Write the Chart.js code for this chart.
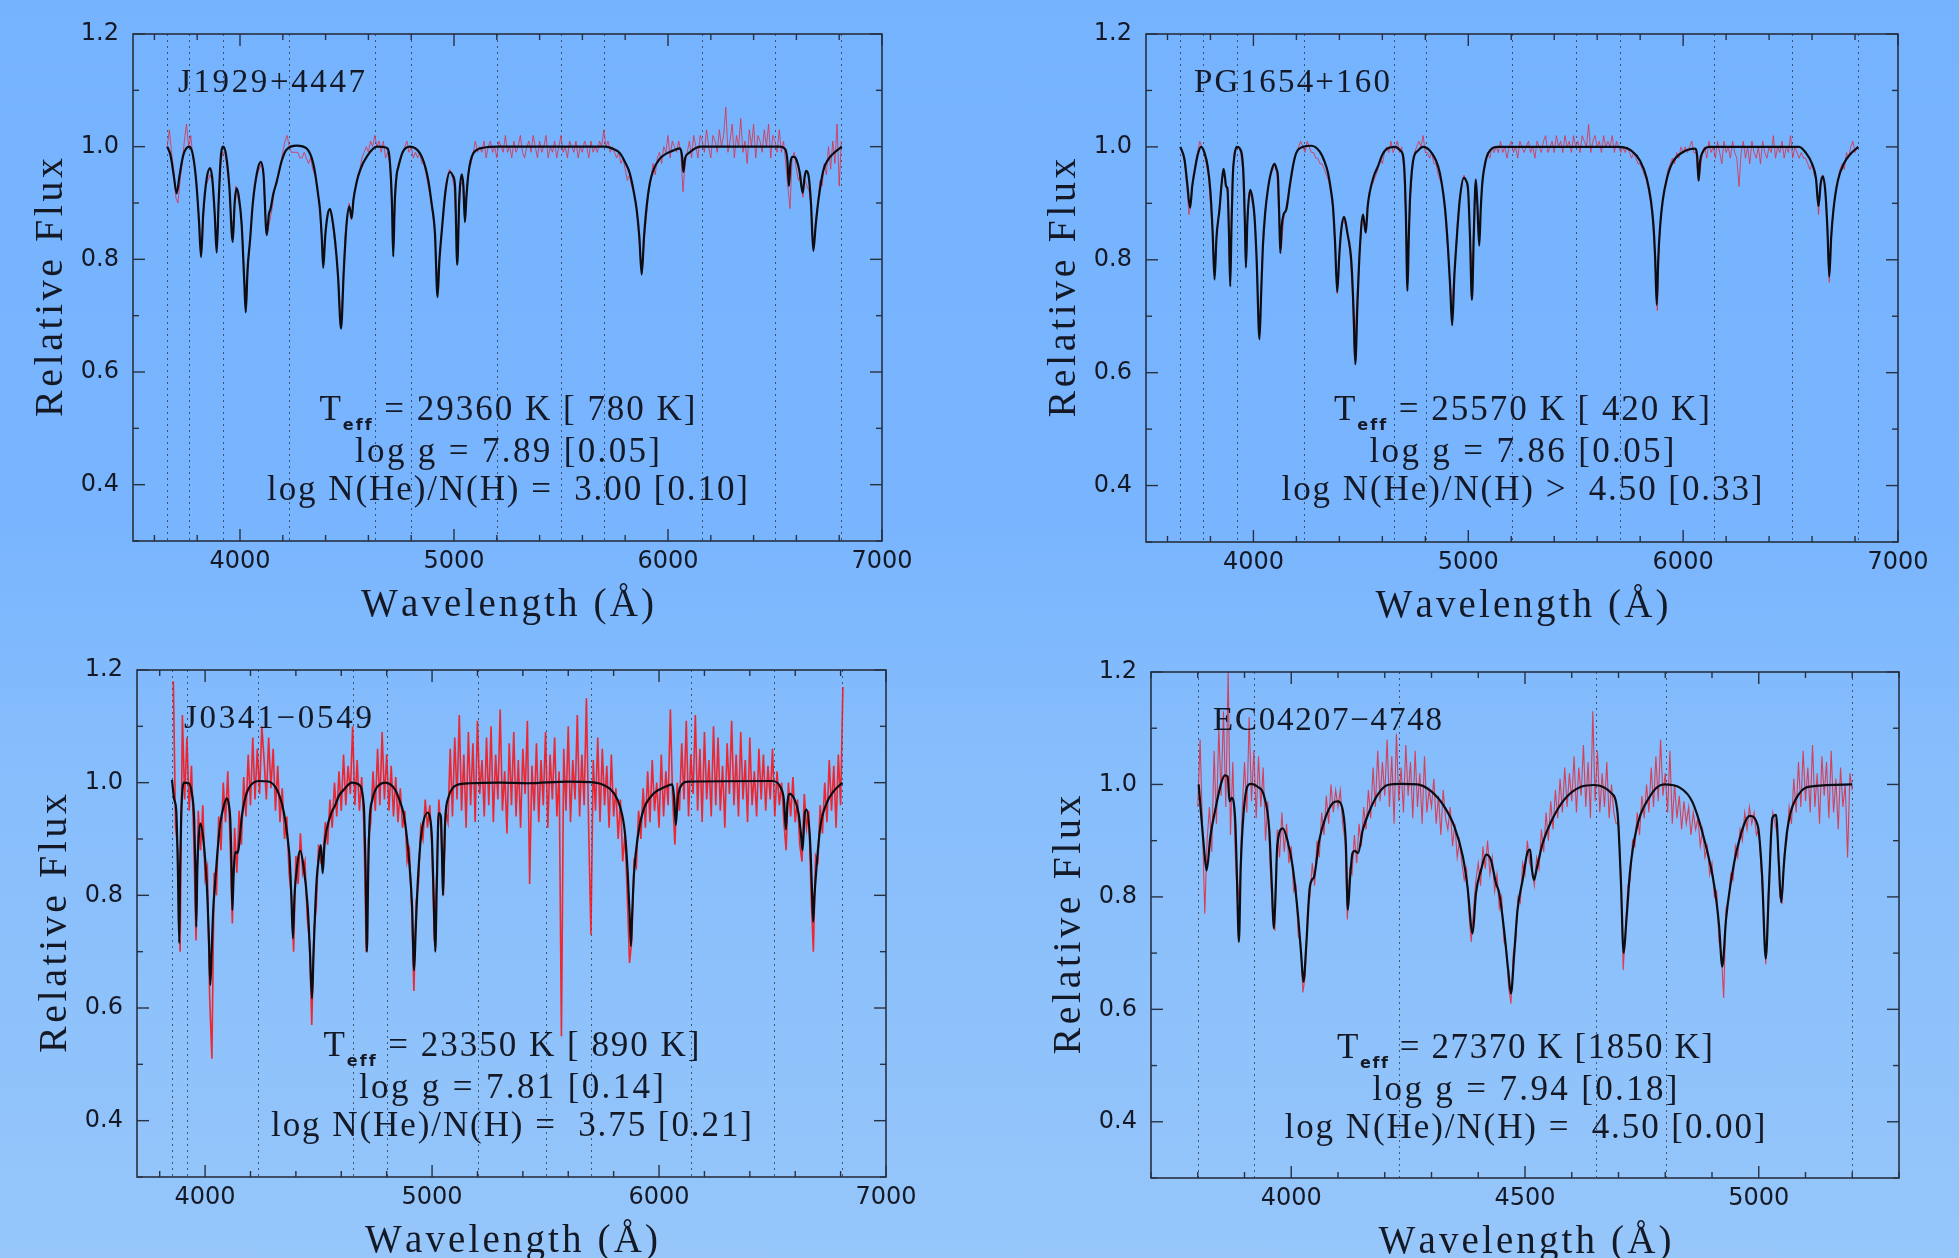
<!DOCTYPE html>
<html>
<head>
<meta charset="utf-8">
<script src="https://cdn.jsdelivr.net/npm/chart.js@4.4.1/dist/chart.umd.min.js"></script>
<style>
html, body { margin: 0; padding: 0; }
body {
  width: 1959px; height: 1258px; overflow: hidden; position: relative;
  background: linear-gradient(180deg, #76b3fe 0%, #79b5fe 42%, #86bdfc 60%, #96c6fa 100%);
}
canvas { position: absolute; }
</style>
</head>
<body>
<canvas id="tl" width="980" height="629" style="left:0;top:0"></canvas>
<canvas id="tr" width="979" height="629" style="left:980px;top:0"></canvas>
<canvas id="bl" width="980" height="629" style="left:0;top:629px"></canvas>
<canvas id="br" width="979" height="629" style="left:980px;top:629px"></canvas>
<script>
// ---- data ----
const yTickLabels = [0.4, 0.6, 0.8, 1.0, 1.2];
const xTickLabelsWide = [4000, 5000, 6000, 7000];
const xTickLabelsNarrow = [4000, 4500, 5000];

// J1929+4447 model fit [wavelength, flux]
const tlModel = [[3660,1.000],[3675,0.985],[3690,0.950],[3704,0.917],[3718,0.950],[3735,0.985],[3763,1.000],[3780,0.985],
  [3795,0.940],[3808,0.870],[3818,0.804],[3828,0.880],[3845,0.945],[3860,0.962],[3870,0.945],[3882,0.880],[3891,0.812],
  [3900,0.900],[3910,0.980],[3922,1.000],[3935,0.985],[3950,0.930],[3966,0.831],[3975,0.900],[3984,0.926],[3995,0.910],
  [4008,0.860],[4020,0.760],[4027,0.706],[4035,0.780],[4047,0.834],[4060,0.900],[4080,0.955],[4097,0.973],[4110,0.950],
  [4125,0.843],[4135,0.880],[4143,0.890],[4155,0.915],[4171,0.937],[4195,0.975],[4218,0.995],[4265,1.002],[4311,0.997],
  [4335,0.980],[4350,0.955],[4365,0.915],[4374,0.887],[4382,0.840],[4389,0.785],[4398,0.840],[4410,0.880],[4421,0.889],
  [4432,0.870],[4444,0.834],[4458,0.770],[4472,0.677],[4485,0.780],[4498,0.863],[4511,0.894],[4522,0.873],[4530,0.905],
  [4545,0.937],[4565,0.962],[4592,0.982],[4639,1.000],[4685,0.998],[4700,0.975],[4710,0.900],[4716,0.805],[4723,0.900],
  [4732,0.950],[4740,0.964],[4760,0.990],[4794,1.000],[4841,0.988],[4865,0.965],[4880,0.940],[4895,0.900],[4911,0.846],
  [4923,0.733],[4932,0.800],[4942,0.846],[4960,0.920],[4981,0.955],[4995,0.948],[5005,0.929],[5015,0.790],[5025,0.910],
  [5036,0.951],[5044,0.930],[5051,0.866],[5058,0.910],[5067,0.951],[5090,0.988],[5137,0.998],[5200,1.000],[5706,1.000],
  [5750,0.995],[5776,0.988],[5800,0.972],[5822,0.952],[5840,0.920],[5854,0.887],[5866,0.840],[5877,0.773],[5888,0.840],
  [5900,0.893],[5915,0.935],[5931,0.958],[5960,0.978],[5994,0.988],[6030,0.994],[6056,0.997],[6065,0.985],[6072,0.955],
  [6080,0.980],[6095,0.988],[6150,1.000],[6523,1.000],[6547,0.996],[6558,0.975],[6565,0.930],[6572,0.970],[6581,0.982],
  [6590,0.982],[6601,0.976],[6615,0.955],[6629,0.918],[6638,0.945],[6645,0.957],[6656,0.950],[6668,0.900],[6679,0.815],
  [6690,0.860],[6703,0.905],[6726,0.958],[6750,0.978],[6773,0.988],[6812,1.000]];
// J1929+4447 observed flux, 3660-6810 A every 10 A
const tlObsStart = 3660, tlObsStep = 10;
const tlObs = [
  1.00,1.03,0.99,0.96,0.91,0.90,0.94,0.97,1.01,1.04,1.00,1.02,0.98,0.96,0.91,0.87,0.81,0.88,0.93,0.94,
  0.95,0.94,0.89,0.82,0.90,0.97,0.99,0.99,0.96,0.93,0.86,0.87,0.93,0.91,0.89,0.86,0.77,0.72,0.80,0.85,
  0.90,0.93,0.95,0.96,0.97,0.95,0.86,0.85,0.87,0.89,0.92,0.94,0.95,0.97,0.99,1.01,1.02,1.00,0.99,0.99,
  0.99,0.99,0.98,0.98,0.99,0.98,0.97,0.98,0.96,0.95,0.93,0.90,0.85,0.79,0.85,0.88,0.89,0.87,0.84,0.81,
  0.77,0.69,0.75,0.84,0.87,0.90,0.87,0.91,0.93,0.95,0.96,0.98,0.99,1.00,0.99,1.01,1.00,1.02,1.00,1.01,
  0.99,1.01,0.98,0.99,0.97,0.89,0.86,0.94,0.97,0.98,0.99,1.00,1.01,0.99,1.00,0.98,0.99,0.98,0.99,0.97,
  0.97,0.95,0.93,0.91,0.88,0.85,0.77,0.79,0.84,0.88,0.93,0.95,0.96,0.95,0.93,0.86,0.85,0.93,0.94,0.88,
  0.93,0.96,0.97,0.99,1.01,0.99,1.00,0.99,1.01,0.98,1.00,1.01,0.99,1.00,0.98,1.01,1.00,0.99,1.02,0.99,
  1.00,0.98,1.01,0.99,1.00,1.02,0.99,0.98,1.00,1.01,0.99,1.02,1.00,0.98,1.01,0.99,1.00,1.02,0.98,1.00,
  0.99,1.01,0.98,1.00,1.02,0.99,1.00,0.98,1.01,1.00,0.99,1.01,0.98,1.00,0.99,1.01,1.00,0.98,1.01,0.99,
  1.00,0.99,1.01,1.00,1.03,1.00,1.01,0.99,1.00,0.99,0.98,0.99,0.97,0.98,0.96,0.94,0.95,0.93,0.92,0.90,
  0.86,0.81,0.78,0.84,0.88,0.92,0.94,0.97,0.95,0.98,0.99,0.97,1.00,0.99,1.02,0.98,1.01,1.00,0.99,1.01,
  0.99,0.92,0.97,0.99,1.01,0.98,1.02,1.00,0.98,1.02,1.01,0.99,1.03,1.00,0.98,1.02,1.01,0.99,1.03,1.00,
  1.02,1.07,0.99,1.01,1.04,0.98,1.02,1.00,1.05,0.99,1.01,0.97,1.03,1.00,1.04,0.98,1.02,1.01,0.99,1.03,
  1.00,1.04,0.98,1.02,1.01,0.99,1.03,0.99,1.01,0.97,0.93,0.89,0.98,0.99,0.96,0.94,0.95,0.91,0.94,0.93,
  0.92,0.89,0.82,0.87,0.90,0.94,0.93,0.97,0.95,1.00,0.96,1.01,0.97,1.04,0.93,1.01];

// PG1654+160 model fit
const trModel = [[3660,1.000],[3679,0.978],[3692,0.935],[3705,0.892],[3715,0.930],[3725,0.954],[3740,0.985],[3756,1.000],
  [3772,0.990],[3787,0.966],[3800,0.920],[3810,0.850],[3819,0.765],[3828,0.840],[3842,0.889],[3852,0.935],[3861,0.961],
  [3868,0.945],[3873,0.930],[3879,0.927],[3886,0.850],[3892,0.753],[3898,0.860],[3904,0.948],[3912,0.985],[3923,1.000],
  [3943,0.992],[3954,0.948],[3960,0.870],[3965,0.786],[3972,0.870],[3985,0.924],[3995,0.910],[4005,0.877],[4015,0.800],
  [4028,0.659],[4036,0.740],[4044,0.824],[4055,0.885],[4067,0.924],[4082,0.955],[4098,0.970],[4108,0.960],[4114,0.948],
  [4120,0.880],[4125,0.812],[4132,0.860],[4140,0.880],[4153,0.889],[4171,0.936],[4185,0.968],[4199,0.989],[4230,1.000],
  [4269,1.002],[4308,0.992],[4330,0.975],[4347,0.954],[4360,0.925],[4370,0.895],[4380,0.830],[4390,0.743],[4400,0.810],
  [4409,0.854],[4422,0.876],[4437,0.848],[4456,0.795],[4466,0.710],[4474,0.615],[4484,0.720],[4495,0.818],[4510,0.880],
  [4516,0.865],[4523,0.848],[4532,0.895],[4541,0.919],[4560,0.948],[4580,0.966],[4600,0.986],[4619,0.996],[4658,1.000],
  [4685,0.993],[4697,0.983],[4705,0.940],[4709,0.889],[4717,0.745],[4723,0.840],[4728,0.901],[4743,0.975],[4765,0.993],
  [4790,1.000],[4836,0.986],[4860,0.965],[4875,0.939],[4892,0.890],[4906,0.818],[4916,0.750],[4925,0.684],[4935,0.770],
  [4945,0.830],[4960,0.905],[4979,0.945],[4990,0.940],[4999,0.924],[5008,0.840],[5017,0.729],[5026,0.850],[5035,0.942],
  [5042,0.900],[5051,0.825],[5058,0.890],[5066,0.939],[5078,0.970],[5093,0.989],[5139,1.000],[5700,1.000],[5760,0.993],
  [5800,0.975],[5830,0.945],[5850,0.905],[5862,0.860],[5870,0.800],[5877,0.720],[5884,0.800],[5893,0.860],[5905,0.905],
  [5925,0.945],[5950,0.972],[6000,0.991],[6055,0.997],[6065,0.985],[6072,0.940],[6079,0.975],[6090,0.990],[6120,1.000],
  [6540,1.000],[6570,0.990],[6600,0.970],[6618,0.945],[6630,0.895],[6640,0.935],[6650,0.948],[6662,0.920],[6672,0.850],
  [6680,0.770],[6689,0.840],[6700,0.890],[6720,0.940],[6750,0.972],[6780,0.988],[6815,1.000]];
const trObsStart = 3660, trObsStep = 10;
const trObs = [
  1.00,0.99,0.97,0.93,0.88,0.90,0.95,0.97,0.99,1.01,1.00,0.99,0.97,0.95,0.90,0.84,0.77,0.84,0.89,0.93,
  0.96,0.93,0.92,0.77,0.93,0.99,1.00,1.00,0.99,0.96,0.85,0.85,0.92,0.91,0.89,0.85,0.74,0.67,0.80,0.85,
  0.90,0.93,0.95,0.96,0.97,0.95,0.86,0.82,0.87,0.89,0.91,0.93,0.95,0.98,0.99,1.00,1.01,1.00,0.99,1.01,
  1.00,0.99,0.99,0.98,0.98,0.97,0.97,0.96,0.95,0.94,0.92,0.89,0.82,0.74,0.81,0.86,0.87,0.86,0.84,0.81,
  0.75,0.63,0.72,0.79,0.84,0.88,0.85,0.89,0.92,0.93,0.94,0.95,0.96,0.98,0.97,0.99,1.00,0.99,1.01,0.99,
  1.00,1.01,0.99,1.00,0.96,0.86,0.80,0.91,0.96,0.99,1.00,1.01,1.00,1.02,0.99,0.99,0.98,0.99,0.97,0.97,
  0.95,0.94,0.93,0.89,0.84,0.79,0.71,0.75,0.81,0.87,0.91,0.93,0.95,0.94,0.92,0.82,0.78,0.93,0.92,0.83,
  0.91,0.95,0.97,0.99,0.98,1.00,0.99,1.00,0.99,1.01,0.99,1.00,0.98,1.00,1.01,0.99,1.00,0.98,1.01,1.00,
  0.99,1.00,1.01,0.99,1.00,0.98,1.01,1.00,0.99,1.01,1.02,0.99,1.00,1.01,0.99,1.02,1.00,1.01,0.99,1.02,
  1.00,1.01,0.99,1.02,1.00,1.01,0.99,1.02,1.01,1.00,1.04,0.99,1.01,1.02,1.00,1.01,0.99,1.02,1.00,1.01,
  1.00,1.02,0.99,1.01,1.00,0.99,1.00,0.99,1.00,0.99,0.98,0.99,0.98,0.97,0.97,0.96,0.95,0.94,0.92,0.90,
  0.86,0.79,0.71,0.84,0.89,0.92,0.94,0.96,0.97,0.98,0.97,0.99,0.98,1.00,0.99,1.00,0.99,1.00,1.01,0.99,
  0.99,0.94,0.96,0.99,1.00,0.98,1.01,0.99,1.00,0.98,1.01,0.99,0.97,1.01,0.99,1.00,0.98,1.01,0.99,0.98,
  0.93,0.99,1.01,0.98,1.00,0.97,1.01,0.99,0.98,1.00,0.97,1.01,0.99,0.98,1.00,0.99,1.02,0.98,1.00,0.99,
  1.01,0.98,1.00,0.99,1.02,0.98,1.00,0.99,0.98,0.99,0.98,0.98,0.97,0.96,0.97,0.95,0.94,0.88,0.93,0.95,
  0.93,0.86,0.76,0.84,0.89,0.92,0.94,0.96,0.97,0.96,0.99,0.98,1.00,1.01,0.99,1.00];

// J0341-0549 model fit
const blModel = [[3854,1.005],[3864,0.970],[3873,0.950],[3880,0.850],[3886,0.715],[3890,0.850],[3895,0.946],[3908,1.000],
  [3928,0.999],[3942,0.980],[3952,0.934],[3957,0.850],[3961,0.744],[3966,0.850],[3972,0.904],[3979,0.928],[3991,0.904],
  [4008,0.815],[4017,0.720],[4023,0.641],[4029,0.700],[4035,0.768],[4045,0.827],[4055,0.880],[4067,0.928],[4080,0.955],
  [4096,0.972],[4105,0.960],[4111,0.934],[4116,0.860],[4120,0.774],[4126,0.840],[4133,0.877],[4143,0.875],[4162,0.940],
  [4175,0.970],[4192,0.990],[4236,1.003],[4280,1.002],[4317,0.987],[4340,0.960],[4353,0.934],[4364,0.900],[4372,0.869],
  [4380,0.800],[4387,0.724],[4394,0.800],[4402,0.839],[4419,0.879],[4434,0.851],[4452,0.780],[4462,0.700],[4471,0.617],
  [4478,0.700],[4485,0.774],[4492,0.830],[4500,0.863],[4510,0.889],[4518,0.839],[4526,0.890],[4537,0.919],[4555,0.945],
  [4573,0.960],[4590,0.977],[4610,0.987],[4647,1.000],[4684,0.994],[4695,0.975],[4701,0.946],[4707,0.850],[4713,0.700],
  [4719,0.850],[4725,0.934],[4737,0.970],[4750,0.987],[4794,1.000],[4838,0.987],[4860,0.965],[4874,0.946],[4890,0.900],
  [4901,0.851],[4912,0.780],[4921,0.667],[4928,0.740],[4936,0.815],[4948,0.890],[4960,0.928],[4982,0.947],[4992,0.935],
  [4999,0.904],[5007,0.800],[5014,0.700],[5021,0.820],[5029,0.946],[5034,0.945],[5039,0.940],[5044,0.870],[5048,0.800],
  [5053,0.870],[5058,0.934],[5073,0.975],[5090,0.990],[5109,0.996],[5168,0.999],[5300,1.000],[5420,0.999],[5600,1.002],
  [5700,1.001],[5760,0.995],[5800,0.982],[5830,0.955],[5850,0.910],[5862,0.840],[5870,0.770],[5876,0.710],[5882,0.770],
  [5890,0.840],[5905,0.900],[5930,0.950],[5970,0.978],[6030,0.993],[6058,0.997],[6066,0.975],[6074,0.925],[6082,0.970],
  [6095,0.993],[6130,1.002],[6500,1.003],[6535,0.992],[6550,0.970],[6559,0.917],[6566,0.965],[6575,0.980],[6595,0.972],
  [6615,0.945],[6625,0.910],[6632,0.880],[6642,0.945],[6650,0.952],[6665,0.900],[6673,0.820],[6679,0.753],[6685,0.800],
  [6692,0.840],[6710,0.920],[6740,0.965],[6770,0.985],[6808,1.000]];
const blObsStart = 3860, blObsStep = 10;
const blObs = [
  1.18,0.92,0.88,0.70,1.12,0.97,1.08,0.95,1.03,0.90,0.72,0.95,0.88,0.96,0.83,0.85,0.62,0.51,0.84,0.80,
  0.94,0.88,1.00,0.93,1.02,0.90,0.75,0.92,0.84,0.95,0.89,1.01,0.94,1.05,0.96,1.08,0.97,1.06,0.98,1.10,
  1.04,0.97,1.08,0.99,1.06,0.95,1.03,0.93,0.99,0.90,0.94,0.84,0.80,0.70,0.87,0.82,0.91,0.84,0.86,0.76,
  0.72,0.57,0.74,0.78,0.89,0.86,0.87,0.93,0.89,0.97,0.92,1.00,0.94,1.02,0.95,1.05,0.96,1.03,0.98,1.10,
  0.96,1.04,0.95,1.01,0.92,0.70,0.90,0.93,1.02,0.95,1.06,0.96,1.09,0.97,1.05,0.95,1.03,0.94,1.01,0.93,
  0.99,0.92,0.95,0.86,0.88,0.78,0.63,0.79,0.82,0.92,0.90,0.97,0.92,0.96,0.88,0.72,0.83,0.97,0.91,0.80,
  0.95,0.93,1.06,0.94,1.08,0.97,1.12,0.95,1.05,0.92,1.09,0.96,1.07,0.93,1.11,0.98,1.04,0.94,1.08,0.96,
  1.10,0.93,1.05,0.97,1.13,0.95,1.02,0.91,1.07,0.96,1.09,0.94,1.04,0.92,1.06,0.98,1.11,0.82,1.03,0.95,
  1.07,0.93,1.04,0.96,1.09,0.92,1.05,0.97,1.08,0.94,1.02,0.55,1.06,0.95,1.10,0.93,1.04,0.97,1.12,0.94,
  1.05,0.96,1.15,0.92,0.73,1.04,0.95,1.08,0.93,1.06,0.96,1.03,0.92,1.05,0.94,0.99,0.90,0.97,0.86,0.91,
  0.80,0.68,0.72,0.86,0.85,0.95,0.90,0.99,0.92,1.02,0.93,1.04,0.95,1.00,0.92,1.05,0.94,1.02,0.96,1.13,
  0.97,0.89,1.00,0.95,1.07,0.97,1.11,0.94,1.05,0.98,1.12,0.95,1.06,0.93,1.09,0.97,1.04,0.94,1.10,0.96,
  1.08,0.95,1.03,0.92,1.07,0.98,1.11,0.96,1.05,0.94,1.09,0.97,1.04,0.93,1.08,0.96,1.02,0.94,1.06,0.97,
  1.05,0.95,1.03,0.97,1.06,0.94,1.02,0.96,1.00,0.93,0.88,1.00,0.94,1.01,0.93,0.97,0.89,0.86,0.98,0.92,
  0.95,0.80,0.70,0.87,0.86,0.96,0.91,1.00,0.93,1.04,0.95,1.03,0.92,1.05,0.96,1.17];

// EC04207-4748 model fit
const brModel = [[3802,1.000],[3807,0.949],[3813,0.890],[3819,0.847],[3827,0.907],[3839,0.961],[3850,1.002],[3858,1.016],
  [3864,1.014],[3868,0.970],[3873,0.976],[3878,0.961],[3881,0.920],[3884,0.830],[3888,0.720],[3892,0.854],[3898,0.949],
  [3907,0.998],[3914,1.001],[3928,0.996],[3942,0.979],[3953,0.919],[3958,0.830],[3963,0.744],[3967,0.820],[3970,0.890],
  [3982,0.922],[3992,0.900],[4003,0.854],[4014,0.771],[4021,0.700],[4026,0.649],[4032,0.712],[4039,0.812],[4044,0.830],
  [4049,0.836],[4060,0.901],[4074,0.943],[4089,0.967],[4099,0.970],[4110,0.955],[4115,0.920],[4117,0.890],[4121,0.777],
  [4126,0.836],[4131,0.878],[4136,0.882],[4143,0.878],[4153,0.919],[4167,0.952],[4185,0.982],[4206,0.999],[4235,1.001],
  [4270,1.000],[4299,0.988],[4327,0.961],[4349,0.925],[4367,0.872],[4377,0.818],[4388,0.735],[4395,0.806],[4406,0.848],
  [4417,0.875],[4427,0.866],[4438,0.824],[4445,0.806],[4456,0.735],[4464,0.670],[4470,0.628],[4477,0.700],[4484,0.777],
  [4495,0.830],[4506,0.881],[4511,0.884],[4515,0.848],[4519,0.830],[4526,0.854],[4538,0.896],[4556,0.934],[4584,0.973],
  [4620,0.996],[4648,0.999],[4684,0.985],[4698,0.949],[4705,0.830],[4711,0.700],[4717,0.760],[4725,0.848],[4738,0.919],
  [4765,0.976],[4797,1.000],[4832,0.994],[4858,0.969],[4885,0.897],[4905,0.819],[4915,0.750],[4922,0.676],[4930,0.760],
  [4939,0.819],[4955,0.890],[4981,0.944],[4998,0.926],[5007,0.840],[5015,0.690],[5022,0.820],[5029,0.940],[5037,0.946],
  [5043,0.860],[5048,0.790],[5054,0.860],[5061,0.919],[5086,0.983],[5118,0.997],[5200,1.000]];
const brObsStart = 3800, brObsStep = 5;
const brObs = [
  0.96,1.08,0.93,0.77,0.90,0.96,0.88,1.06,0.93,1.10,0.98,1.13,0.96,1.20,0.91,1.04,0.88,0.79,0.83,0.95,
  1.04,0.95,1.12,0.97,1.06,0.94,1.05,0.96,1.03,0.90,0.97,0.85,0.77,0.74,0.92,0.87,0.95,0.88,0.93,0.86,
  0.89,0.81,0.82,0.73,0.72,0.63,0.66,0.78,0.80,0.86,0.82,0.90,0.87,0.95,0.91,0.98,0.93,1.00,0.95,0.99,
  0.96,0.99,0.93,0.90,0.76,0.85,0.84,0.91,0.86,0.93,0.89,0.96,0.92,0.99,0.94,1.03,0.96,1.06,0.97,1.04,
  0.98,1.08,0.96,1.05,0.93,1.09,0.97,1.03,0.95,1.07,0.98,1.04,0.94,1.06,0.96,1.02,0.93,1.05,0.95,0.99,
  0.96,1.01,0.93,0.98,0.91,0.99,0.94,0.92,0.96,0.89,0.93,0.87,0.90,0.86,0.83,0.85,0.77,0.72,0.78,0.83,
  0.86,0.82,0.89,0.85,0.90,0.84,0.87,0.81,0.84,0.78,0.80,0.72,0.71,0.64,0.61,0.70,0.72,0.80,0.79,0.86,
  0.84,0.90,0.86,0.85,0.82,0.87,0.85,0.92,0.88,0.95,0.90,0.97,0.92,0.99,0.94,1.01,0.95,1.03,0.96,1.02,
  0.97,1.05,0.95,1.03,0.98,1.07,0.96,1.04,0.94,1.13,0.97,1.06,0.95,1.02,0.96,1.04,0.94,1.00,0.95,0.93,
  0.93,0.84,0.67,0.74,0.82,0.83,0.90,0.89,0.95,0.91,0.98,0.94,1.00,0.95,1.03,0.96,1.05,0.97,1.08,0.98,
  1.02,0.95,1.06,0.93,1.00,0.94,0.98,0.92,0.97,0.93,0.96,0.91,0.95,0.92,0.94,0.89,0.92,0.87,0.89,0.84,
  0.86,0.80,0.81,0.72,0.70,0.62,0.78,0.79,0.84,0.83,0.89,0.87,0.92,0.90,0.95,0.92,0.96,0.93,0.95,0.91,
  0.92,0.85,0.78,0.68,0.80,0.88,0.95,0.93,0.91,0.80,0.79,0.88,0.90,0.96,0.93,1.01,0.95,1.04,0.96,1.06,
  0.97,1.03,0.95,1.07,0.96,1.02,0.93,1.05,0.98,1.04,0.94,1.06,0.95,1.01,0.92,1.03,0.96,1.00,0.87,1.02,
  0.99];

// fitting windows (dotted lines)
const tlWindows = [3660, 3760, 3920, 4230, 4630, 4800, 5200, 5500, 5700, 6160, 6500, 6810];
const trWindows = [3660, 3765, 3925, 4235, 4655, 4805, 5205, 5500, 5705, 6145, 6505, 6815];
const blWindows = [3856, 3922, 4231, 4652, 4801, 5202, 5502, 5700, 6139, 6506, 6808];
const brWindows = [3800, 3920, 4231, 4651, 4801, 5200];

const names = ['J1929+4447', 'PG1654+160', 'J0341\u22120549', 'EC04207\u22124748'];
const teffs = ['29360 K [ 780 K]', '25570 K [ 420 K]', '23350 K [ 890 K]', '27370 K [1850 K]'];
const loggs = ['7.89 [0.05]', '7.86 [0.05]', '7.81 [0.14]', '7.94 [0.18]'];
const heh = ['=  3.00 [0.10]', '>  4.50 [0.33]', '=  3.75 [0.21]', '=  4.50 [0.00]'];

// ---- layout ----
const panels = [
  { id: 'tl', w: 980, h: 629, area: { l: 133, t: 34, r: 882, b: 541 }, xMin: 3500, xMax: 7000, xMajor: 1000, xMinor: 200,
    xLabels: xTickLabelsWide, windows: tlWindows, model: tlModel, obs: tlObs, obsStart: tlObsStart, obsStep: tlObsStep,
    obsColor: 'rgba(222,45,70,0.8)', obsWidth: 1, nameDx: 45, nameW: 187 },
  { id: 'tr', w: 979, h: 629, area: { l: 166, t: 34, r: 918, b: 542 }, xMin: 3500, xMax: 7000, xMajor: 1000, xMinor: 200,
    xLabels: xTickLabelsWide, windows: trWindows, model: trModel, obs: trObs, obsStart: trObsStart, obsStep: trObsStep,
    obsColor: 'rgba(222,45,70,0.8)', obsWidth: 1, nameDx: 48, nameW: 196 },
  { id: 'bl', w: 980, h: 629, area: { l: 137, t: 41, r: 886, b: 548 }, xMin: 3700, xMax: 7000, xMajor: 1000, xMinor: 200,
    xLabels: xTickLabelsWide, windows: blWindows, model: blModel, obs: blObs, obsStart: blObsStart, obsStep: blObsStep,
    obsColor: 'rgba(255,12,12,0.85)', obsWidth: 1.6, nameDx: 47, nameW: 188 },
  { id: 'br', w: 979, h: 629, area: { l: 171, t: 43, r: 919, b: 549 }, xMin: 3700, xMax: 5300, xMajor: 500, xMinor: 100,
    xLabels: xTickLabelsNarrow, windows: brWindows, model: brModel, obs: brObs, obsStart: brObsStart, obsStep: brObsStep,
    obsColor: 'rgba(235,30,45,0.8)', obsWidth: 1.1, nameDx: 62, nameW: 229 }
];

const INK = '#141925';
const SERIF = '"Liberation Serif", "DejaVu Serif", serif';

// draw text runs stretched to a given width by letter spacing
function drawFit(ctx, runs, x, y, width, align) {
  const chars = [];
  runs.forEach(r => {
    ctx.font = r.f;
    for (const c of r.s) chars.push({ c, f: r.f, dy: r.dy || 0, w: ctx.measureText(c).width });
  });
  const natural = chars.reduce((s, ch) => s + ch.w, 0);
  const gap = chars.length > 1 ? (width - natural) / (chars.length - 1) : 0;
  let cx = align === 'center' ? x - width / 2 : x;
  ctx.textAlign = 'left';
  ctx.textBaseline = 'alphabetic';
  chars.forEach(ch => {
    ctx.font = ch.f;
    ctx.fillText(ch.c, cx, y + ch.dy);
    cx += ch.w + gap;
  });
}

function makePlugin(p, idx) {
  return {
    id: 'frame' + idx,
    beforeDatasetsDraw(chart) {
      const { ctx, chartArea: a, scales: { x } } = chart;
      ctx.save();
      ctx.strokeStyle = 'rgba(40,50,70,0.75)';
      ctx.lineWidth = 1;
      ctx.setLineDash([2, 4]);
      p.windows.forEach(w => {
        const px = Math.round(x.getPixelForValue(w)) + 0.5;
        ctx.beginPath(); ctx.moveTo(px, a.top); ctx.lineTo(px, a.bottom); ctx.stroke();
      });
      ctx.restore();
    },
    afterDraw(chart) {
      const { ctx, chartArea: a, scales: { x, y } } = chart;
      ctx.save();
      ctx.strokeStyle = '#273142';
      ctx.lineWidth = 1.6;
      ctx.strokeRect(a.left, a.top, a.right - a.left, a.bottom - a.top);
      ctx.lineWidth = 1.4;
      const seg = (x1, y1, x2, y2) => { ctx.beginPath(); ctx.moveTo(x1, y1); ctx.lineTo(x2, y2); ctx.stroke(); };
      for (let v = Math.ceil(p.xMin / p.xMinor) * p.xMinor; v <= p.xMax; v += p.xMinor) {
        const px = x.getPixelForValue(v);
        const len = v % p.xMajor === 0 ? 12 : 6;
        seg(px, a.bottom, px, a.bottom - len);
        seg(px, a.top, px, a.top + len);
      }
      for (let k = 3; k <= 12; k++) {
        const py = y.getPixelForValue(k / 10);
        const len = k % 2 === 0 ? 12 : 6;
        seg(a.left, py, a.left + len, py);
        seg(a.right, py, a.right - len, py);
      }

      ctx.fillStyle = INK;
      const F = '35px ' + SERIF;
      const cx = (a.left + a.right) / 2;
      drawFit(ctx, [{ s: names[idx], f: '33px ' + SERIF }], a.left + p.nameDx, a.top + 58, p.nameW, 'left');
      drawFit(ctx, [{ s: 'T', f: F }, { s: 'eff', f: 'bold 16px "DejaVu Sans", sans-serif', dy: 10 },
        { s: ' = ' + teffs[idx], f: F }], cx, a.top + 386, 376, 'center');
      drawFit(ctx, [{ s: 'log g = ' + loggs[idx], f: F }], cx, a.top + 428, 305, 'center');
      drawFit(ctx, [{ s: 'log N(He)/N(H) ' + heh[idx], f: F }], cx, a.top + 466, 481, 'center');

      drawFit(ctx, [{ s: 'Wavelength (\u00c5)', f: '39px ' + SERIF }], cx, a.bottom + 75, 293, 'center');
      ctx.translate(a.left - 71, (a.top + a.bottom) / 2);
      ctx.rotate(-Math.PI / 2);
      drawFit(ctx, [{ s: 'Relative Flux', f: '40px ' + SERIF }], 0, 0, 259, 'center');
      ctx.restore();
    }
  };
}

panels.forEach((p, idx) => {
  const modelPts = p.model.map(d => ({ x: d[0], y: d[1] }));
  const obsPts = p.obs.map((f, i) => ({ x: p.obsStart + i * p.obsStep, y: f }));
  const ctx = document.getElementById(p.id).getContext('2d');
  new Chart(ctx, {
    type: 'line',
    data: {
      datasets: [
        { data: modelPts, borderColor: '#0c0d12', borderWidth: 2.2, pointRadius: 0,
          cubicInterpolationMode: 'monotone', order: 0 },
        { data: obsPts, borderColor: p.obsColor, borderWidth: p.obsWidth, pointRadius: 0, tension: 0, order: 1 }
      ]
    },
    options: {
      responsive: false,
      animation: false,
      devicePixelRatio: 1,
      events: [],
      layout: { padding: { left: 0, top: p.area.t, right: p.w - p.area.r, bottom: 0 } },
      plugins: { legend: { display: false }, tooltip: { enabled: false } },
      scales: {
        x: {
          type: 'linear', min: p.xMin, max: p.xMax,
          grid: { display: false, drawTicks: false }, border: { display: false },
          ticks: { autoSkip: false, maxRotation: 0, padding: 6, color: INK,
            font: { family: '"DejaVu Sans", sans-serif', size: 24 }, callback: v => String(v) },
          afterBuildTicks: s => { s.ticks = p.xLabels.map(v => ({ value: v })); },
          afterFit: s => { s.height = p.h - p.area.b; }
        },
        y: {
          type: 'linear', min: 0.3, max: 1.2,
          grid: { display: false, drawTicks: false }, border: { display: false },
          ticks: { autoSkip: false, padding: 14, color: INK,
            font: { family: '"DejaVu Sans", sans-serif', size: 24 }, callback: v => Number(v).toFixed(1) },
          afterBuildTicks: s => { s.ticks = yTickLabels.map(v => ({ value: v })); },
          afterFit: s => { s.width = p.area.l; }
        }
      }
    },
    plugins: [makePlugin(p, idx)]
  });
});
</script>
</body>
</html>
